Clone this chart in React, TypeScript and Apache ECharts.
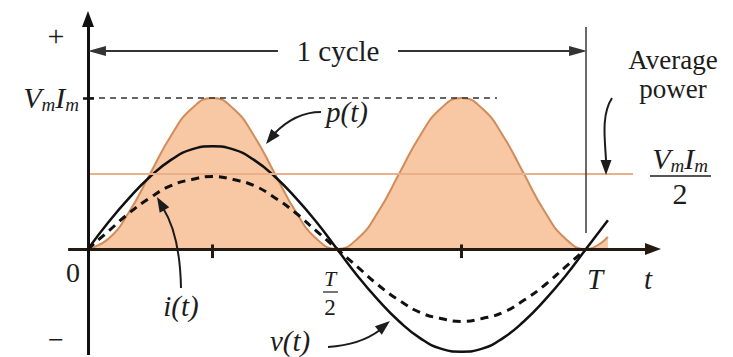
import React, { useEffect, useRef } from "react";
import * as echarts from "echarts";

// ---- data (time in fractions of the period T, values in units of Vm·Im) ----
const tSamples = [0, 0.0417, 0.0833, 0.125, 0.1667, 0.2083, 0.25, 0.2917, 0.3333, 0.375, 0.4167, 0.4583, 0.5, 0.5417, 0.5833, 0.625, 0.6667, 0.7083, 0.75, 0.7917, 0.8333, 0.875, 0.9167, 0.9583, 1.0, 1.044];
const pValues = [0, 0.07, 0.25, 0.5, 0.75, 0.93, 1, 0.93, 0.75, 0.5, 0.25, 0.07, 0, 0.07, 0.25, 0.5, 0.75, 0.93, 1, 0.93, 0.75, 0.5, 0.25, 0.07, 0, 0.08];
const vValues = [0, 0.18, 0.34, 0.48, 0.59, 0.66, 0.68, 0.66, 0.59, 0.48, 0.34, 0.18, 0, -0.18, -0.34, -0.48, -0.59, -0.66, -0.68, -0.66, -0.59, -0.48, -0.34, -0.18, 0, 0.19];
const iValues = [0, 0.12, 0.24, 0.34, 0.42, 0.46, 0.48, 0.46, 0.42, 0.34, 0.24, 0.12, 0, -0.12, -0.24, -0.34, -0.42, -0.46, -0.48, -0.46, -0.42, -0.34, -0.24, -0.12, 0, null];
const peakPower = 1; // Vm·Im
const averagePower = 0.5; // Vm·Im / 2
const quarterTicks = [0.25, 0.75];

// ---- layout ----
const W = 733;
const H = 357;
const ORIGIN_X = 88;
const ORIGIN_Y = 249;
const PX_PER_T = 498;
const PX_PER_UNIT = 151;
const xMin = -ORIGIN_X / PX_PER_T;
const xMax = (W - ORIGIN_X) / PX_PER_T;
const yMax = ORIGIN_Y / PX_PER_UNIT;
const yMin = -(H - ORIGIN_Y) / PX_PER_UNIT;

const SERIF = "Liberation Serif";
const INK = "#1c1c1c";

function zip(xs: number[], ys: (number | null)[]) {
  return xs.map((x, k) => [x, ys[k]]);
}

function seg(a: number[], b: number[], style: any, s0 = "none", s1 = "none", size: any = [12, 16]) {
  return [
    { coord: a, symbol: s0, symbolSize: size, lineStyle: style },
    { coord: b, symbol: s1, symbolSize: size, lineStyle: style },
  ];
}

function head(tx: number, ty: number, dx: number, dy: number, len = 15, half = 5.5) {
  const n = Math.hypot(dx, dy);
  const ux = dx / n, uy = dy / n;
  const bx = tx - ux * len, by = ty - uy * len;
  return {
    type: "polygon",
    shape: { points: [[tx, ty], [bx - uy * half, by + ux * half], [bx + uy * half, by - ux * half]] },
    style: { fill: INK },
    z: 20,
  };
}

function txt(x: number, y: number, text: string, size = 28, italic = false, align = "center", extra: any = {}) {
  return {
    type: "text",
    x, y, z: 20,
    style: {
      text, fontSize: size, fontFamily: SERIF, fontStyle: italic ? "italic" : "normal",
      fill: INK, align, verticalAlign: "middle", ...extra,
    },
  };
}

const vmimRich = {
  b: { fontSize: 30, fontStyle: "italic", fontFamily: SERIF, lineHeight: 34, verticalAlign: "middle", fill: INK },
  s: { fontSize: 19, fontStyle: "italic", fontFamily: SERIF, lineHeight: 14, verticalAlign: "bottom", fill: INK },
};
const VMIM = "{b|V}{s|m}{b|I}{s|m}";

export default function App() {
  const ref = useRef<HTMLDivElement>(null);
  useEffect(() => {
    if (!ref.current) return;
    const chart = echarts.init(ref.current, undefined, { renderer: "svg" });
    const axisStyle = { color: "#241a14", width: 3, type: "solid" };
    const thin = { color: "#333", width: 2, type: "solid" };
    const option: any = {
      animation: false,
      textStyle: { fontFamily: SERIF },
      grid: { left: 0, right: 0, top: 0, bottom: 0 },
      xAxis: { type: "value", min: xMin, max: xMax, show: false },
      yAxis: { type: "value", min: yMin, max: yMax, show: false },
      series: [
        {
          type: "line", name: "p(t)", data: zip(tSamples, pValues), smooth: 0.5, showSymbol: false, z: 1,
          lineStyle: { color: "#d08c5a", width: 2 },
          areaStyle: { color: "#f8c7a3", opacity: 1 },
        },
        {
          type: "line", name: "avg", data: [], z: 2,
          markLine: {
            silent: true, animation: false, label: { show: false },
            data: [
              seg([0, averagePower], [(633 - ORIGIN_X) / PX_PER_T, averagePower], { color: "#eab08a", width: 2, type: "solid" }),
            ],
          },
        },
        {
          type: "line", name: "i(t)", data: zip(tSamples, iValues), smooth: 0.5, showSymbol: false, z: 3,
          lineStyle: { color: "#111", width: 3, type: [8, 6] },
        },
        {
          type: "line", name: "v(t)", data: zip(tSamples, vValues), smooth: 0.5, showSymbol: false, z: 4,
          lineStyle: { color: "#111", width: 2.5 },
          markLine: {
            silent: true, animation: false, label: { show: false },
            data: [
              seg([-0.04, 0], [1.1345, 0], axisStyle, "none", "triangle", [12, 16]),
              seg([0, -0.702], [0, 1.523], { color: "#111", width: 3, type: "solid" }, "none", "triangle", [12, 16]),
              seg([0.3815, 1.311], [0.018, 1.311], thin, "none", "triangle", [10, 18]),
              seg([0.6225, 1.311], [0.984, 1.311], thin, "none", "triangle", [10, 18]),
              seg([1, 0.106], [1, 1.47], { color: "#444", width: 1.6, type: "solid" }),
              seg([0, peakPower], [(497 - ORIGIN_X) / PX_PER_T, peakPower], { color: "#333", width: 1.6, type: [6, 5] }),
              seg([-0.01, peakPower], [0.012, peakPower], { color: "#111", width: 2.5, type: "solid" }),
              ...quarterTicks.map((q) => seg([q, -0.06], [q, 0.03], { color: "#241a14", width: 3, type: "solid" })),
            ],
          },
        },
      ],
      graphic: [
        txt(56, 35, "+", 30),
        txt(56, 339, "−", 28),
        txt(73, 272, "0", 28),
        txt(338, 51, "1 cycle", 29),
        { type: "text", x: 79, y: 97, z: 20, style: { text: VMIM, rich: vmimRich, align: "right", verticalAlign: "middle" } },
        txt(326, 112, "p(t)", 29, true, "left"),
        txt(673, 74, "Average\npower", 27, false, "center", { lineHeight: 29 }),
        { type: "text", x: 680, y: 158, z: 20, style: { text: VMIM, rich: vmimRich, align: "center", verticalAlign: "middle" } },
        { type: "line", z: 20, shape: { x1: 650, y1: 176, x2: 711, y2: 176 }, style: { stroke: INK, lineWidth: 1.5 } },
        txt(680, 193, "2", 30),
        txt(330, 278, "T", 22, true),
        { type: "line", z: 20, shape: { x1: 323, y1: 292, x2: 338, y2: 292 }, style: { stroke: INK, lineWidth: 1.2 } },
        txt(330, 307, "2", 23),
        txt(595, 279, "T", 29, true),
        txt(648, 279, "t", 29, true),
        txt(181, 306, "i(t)", 29, true),
        txt(290, 341, "v(t)", 29, true),
        // annotation arrows
        { type: "bezierCurve", z: 20, shape: { x1: 321, y1: 112, cpx1: 295, cpy1: 112, x2: 274, y2: 134 }, style: { stroke: INK, lineWidth: 2, fill: "none" } },
        head(266, 144, -0.65, 0.8),
        { type: "bezierCurve", z: 20, shape: { x1: 181, y1: 288, cpx1: 180, cpy1: 235, x2: 163, y2: 208 }, style: { stroke: INK, lineWidth: 2, fill: "none" } },
        head(157, 197, -0.5, -0.87),
        { type: "bezierCurve", z: 20, shape: { x1: 328, y1: 347, cpx1: 360, cpy1: 345, x2: 380, y2: 330 }, style: { stroke: INK, lineWidth: 2, fill: "none" } },
        head(390, 321, 0.78, -0.63),
        { type: "bezierCurve", z: 20, shape: { x1: 612, y1: 98, cpx1: 601, cpy1: 115, cpx2: 605, cpy2: 140, x2: 606, y2: 160 }, style: { stroke: INK, lineWidth: 2, fill: "none" } },
        head(606, 175, 0, 1),
      ],
    };
    chart.setOption(option);
    return () => chart.dispose();
  }, []);
  return <div ref={ref} style={{ position: "fixed", left: 0, top: 0, width: W, height: H, background: "#fff" }} />;
}
